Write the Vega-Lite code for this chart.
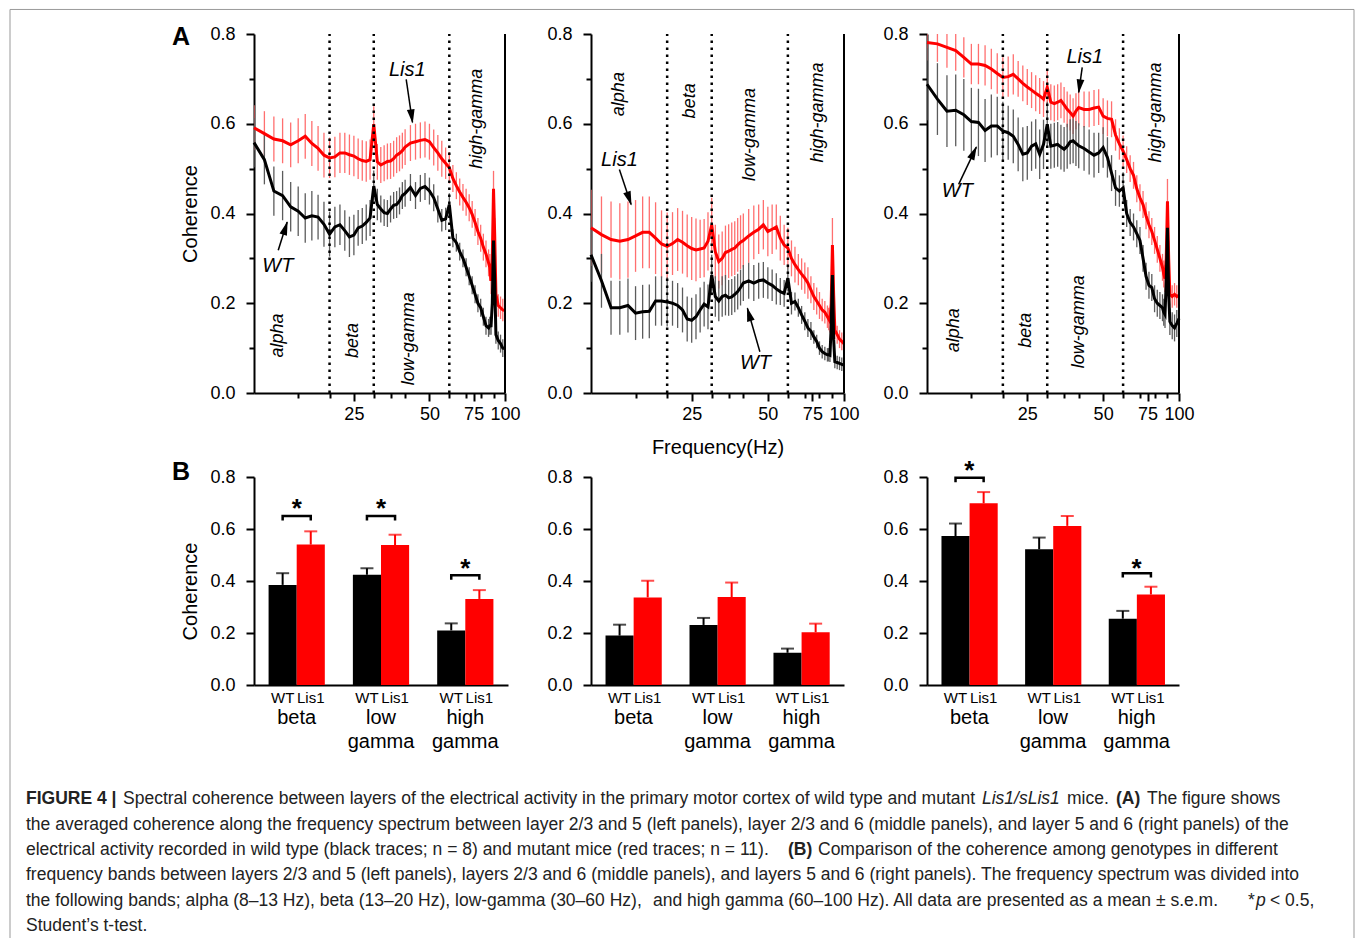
{
"$schema": "https://vega.github.io/schema/vega-lite/v6.json",
"autosize": {"type": "pad"},
"padding": {"left": 9, "top": 8, "right": 0, "bottom": 0},
"background": "white",
"config": {
  "view": {"stroke": null},
  "font": "Liberation Sans",
  "axis": {"domainColor": "#000", "domainWidth": 2, "tickColor": "#000", "tickWidth": 2, "labelColor": "#000", "titleColor": "#000", "labelFont": "Liberation Sans", "titleFont": "Liberation Sans", "grid": false, "labelFontSize": 18, "titleFontSize": 20, "titleFontWeight": "normal", "labelOverlap": false, "labelFlush": false},
  "title": {"font": "Liberation Sans", "color": "#000"},
  "text": {"font": "Liberation Sans", "color": "#000"}
},
"datasets": {
"spec": [
{"p":1,"f":10,"w":0.558,"we":0.055,"l":0.591,"le":0.05},
{"p":1,"f":11,"w":0.52,"we":0.055,"l":0.578,"le":0.05},
{"p":1,"f":12,"w":0.45,"we":0.055,"l":0.566,"le":0.05},
{"p":1,"f":13,"w":0.44,"we":0.055,"l":0.562,"le":0.05},
{"p":1,"f":14,"w":0.415,"we":0.055,"l":0.553,"le":0.05},
{"p":1,"f":15,"w":0.405,"we":0.055,"l":0.562,"le":0.05},
{"p":1,"f":16,"w":0.39,"we":0.055,"l":0.572,"le":0.05},
{"p":1,"f":17,"w":0.395,"we":0.055,"l":0.556,"le":0.05},
{"p":1,"f":18,"w":0.392,"we":0.05,"l":0.545,"le":0.05},
{"p":1,"f":19,"w":0.376,"we":0.05,"l":0.53,"le":0.05},
{"p":1,"f":20,"w":0.354,"we":0.05,"l":0.524,"le":0.045},
{"p":1,"f":21,"w":0.37,"we":0.045,"l":0.526,"le":0.045},
{"p":1,"f":22,"w":0.375,"we":0.045,"l":0.535,"le":0.045},
{"p":1,"f":23,"w":0.362,"we":0.045,"l":0.535,"le":0.045},
{"p":1,"f":24,"w":0.348,"we":0.045,"l":0.531,"le":0.045},
{"p":1,"f":25,"w":0.352,"we":0.045,"l":0.528,"le":0.045},
{"p":1,"f":26,"w":0.368,"we":0.04,"l":0.522,"le":0.045},
{"p":1,"f":27,"w":0.372,"we":0.04,"l":0.518,"le":0.045},
{"p":1,"f":28,"w":0.38,"we":0.04,"l":0.516,"le":0.045},
{"p":1,"f":29,"w":0.39,"we":0.04,"l":0.52,"le":0.045},
{"p":1,"f":30,"w":0.461,"we":0.035,"l":0.599,"le":0.04},
{"p":1,"f":31,"w":0.42,"we":0.035,"l":0.515,"le":0.04},
{"p":1,"f":32,"w":0.41,"we":0.03,"l":0.508,"le":0.04},
{"p":1,"f":33,"w":0.402,"we":0.03,"l":0.512,"le":0.04},
{"p":1,"f":34,"w":0.4,"we":0.03,"l":0.516,"le":0.04},
{"p":1,"f":35,"w":0.41,"we":0.03,"l":0.517,"le":0.04},
{"p":1,"f":36,"w":0.418,"we":0.03,"l":0.522,"le":0.04},
{"p":1,"f":37,"w":0.42,"we":0.03,"l":0.53,"le":0.04},
{"p":1,"f":38,"w":0.428,"we":0.03,"l":0.534,"le":0.04},
{"p":1,"f":39,"w":0.44,"we":0.03,"l":0.54,"le":0.04},
{"p":1,"f":40,"w":0.445,"we":0.03,"l":0.548,"le":0.04},
{"p":1,"f":42,"w":0.458,"we":0.03,"l":0.557,"le":0.04},
{"p":1,"f":44,"w":0.44,"we":0.03,"l":0.56,"le":0.04},
{"p":1,"f":46,"w":0.456,"we":0.03,"l":0.563,"le":0.04},
{"p":1,"f":48,"w":0.46,"we":0.03,"l":0.565,"le":0.04},
{"p":1,"f":50,"w":0.45,"we":0.03,"l":0.56,"le":0.04},
{"p":1,"f":52,"w":0.435,"we":0.03,"l":0.547,"le":0.04},
{"p":1,"f":54,"w":0.41,"we":0.03,"l":0.535,"le":0.04},
{"p":1,"f":56,"w":0.385,"we":0.025,"l":0.522,"le":0.04},
{"p":1,"f":58,"w":0.388,"we":0.025,"l":0.512,"le":0.035},
{"p":1,"f":60,"w":0.42,"we":0.025,"l":0.502,"le":0.035},
{"p":1,"f":62,"w":0.345,"we":0.02,"l":0.478,"le":0.03},
{"p":1,"f":64,"w":0.335,"we":0.02,"l":0.462,"le":0.03},
{"p":1,"f":66,"w":0.315,"we":0.02,"l":0.448,"le":0.03},
{"p":1,"f":68,"w":0.3,"we":0.02,"l":0.436,"le":0.03},
{"p":1,"f":70,"w":0.28,"we":0.02,"l":0.425,"le":0.03},
{"p":1,"f":72,"w":0.26,"we":0.02,"l":0.413,"le":0.03},
{"p":1,"f":74,"w":0.24,"we":0.02,"l":0.398,"le":0.03},
{"p":1,"f":76,"w":0.22,"we":0.02,"l":0.38,"le":0.03},
{"p":1,"f":78,"w":0.2,"we":0.02,"l":0.36,"le":0.03},
{"p":1,"f":80,"w":0.19,"we":0.02,"l":0.345,"le":0.03},
{"p":1,"f":82,"w":0.17,"we":0.02,"l":0.325,"le":0.03},
{"p":1,"f":84,"w":0.15,"we":0.02,"l":0.31,"le":0.03},
{"p":1,"f":86,"w":0.145,"we":0.02,"l":0.29,"le":0.03},
{"p":1,"f":87,"w":0.15,"we":0.02,"l":0.28,"le":0.03},
{"p":1,"f":88,"w":0.15,"we":0.02,"l":0.25,"le":0.03},
{"p":1,"f":89,"w":0.2,"we":0.03,"l":0.3,"le":0.04},
{"p":1,"f":90,"w":0.34,"we":0.04,"l":0.455,"le":0.04},
{"p":1,"f":91,"w":0.25,"we":0.03,"l":0.35,"le":0.04},
{"p":1,"f":92,"w":0.13,"we":0.02,"l":0.22,"le":0.025},
{"p":1,"f":94,"w":0.117,"we":0.02,"l":0.195,"le":0.025},
{"p":1,"f":96,"w":0.11,"we":0.02,"l":0.19,"le":0.025},
{"p":1,"f":98,"w":0.1,"we":0.02,"l":0.185,"le":0.025},
{"p":1,"f":100,"w":0.099,"we":0.02,"l":0.184,"le":0.025},
{"p":2,"f":10,"w":0.308,"we":0.06,"l":0.368,"le":0.085},
{"p":2,"f":11,"w":0.25,"we":0.06,"l":0.353,"le":0.085},
{"p":2,"f":12,"w":0.19,"we":0.06,"l":0.342,"le":0.085},
{"p":2,"f":13,"w":0.19,"we":0.06,"l":0.338,"le":0.085},
{"p":2,"f":14,"w":0.195,"we":0.06,"l":0.342,"le":0.085},
{"p":2,"f":15,"w":0.178,"we":0.06,"l":0.35,"le":0.08},
{"p":2,"f":16,"w":0.181,"we":0.06,"l":0.358,"le":0.08},
{"p":2,"f":17,"w":0.182,"we":0.06,"l":0.358,"le":0.08},
{"p":2,"f":18,"w":0.205,"we":0.055,"l":0.345,"le":0.08},
{"p":2,"f":19,"w":0.205,"we":0.055,"l":0.332,"le":0.075},
{"p":2,"f":20,"w":0.203,"we":0.055,"l":0.327,"le":0.075},
{"p":2,"f":21,"w":0.2,"we":0.05,"l":0.333,"le":0.07},
{"p":2,"f":22,"w":0.195,"we":0.05,"l":0.342,"le":0.07},
{"p":2,"f":23,"w":0.185,"we":0.05,"l":0.336,"le":0.07},
{"p":2,"f":24,"w":0.165,"we":0.05,"l":0.328,"le":0.07},
{"p":2,"f":25,"w":0.162,"we":0.05,"l":0.322,"le":0.07},
{"p":2,"f":26,"w":0.17,"we":0.05,"l":0.319,"le":0.07},
{"p":2,"f":27,"w":0.185,"we":0.05,"l":0.321,"le":0.065},
{"p":2,"f":28,"w":0.198,"we":0.05,"l":0.323,"le":0.065},
{"p":2,"f":29,"w":0.192,"we":0.05,"l":0.338,"le":0.065},
{"p":2,"f":30,"w":0.263,"we":0.045,"l":0.375,"le":0.06},
{"p":2,"f":31,"w":0.215,"we":0.045,"l":0.315,"le":0.06},
{"p":2,"f":32,"w":0.205,"we":0.045,"l":0.293,"le":0.06},
{"p":2,"f":33,"w":0.215,"we":0.045,"l":0.3,"le":0.06},
{"p":2,"f":34,"w":0.218,"we":0.045,"l":0.313,"le":0.06},
{"p":2,"f":35,"w":0.212,"we":0.04,"l":0.316,"le":0.06},
{"p":2,"f":36,"w":0.214,"we":0.04,"l":0.32,"le":0.06},
{"p":2,"f":37,"w":0.22,"we":0.04,"l":0.323,"le":0.06},
{"p":2,"f":38,"w":0.226,"we":0.04,"l":0.33,"le":0.06},
{"p":2,"f":39,"w":0.235,"we":0.04,"l":0.336,"le":0.06},
{"p":2,"f":40,"w":0.245,"we":0.04,"l":0.34,"le":0.06},
{"p":2,"f":42,"w":0.25,"we":0.04,"l":0.35,"le":0.06},
{"p":2,"f":44,"w":0.245,"we":0.04,"l":0.358,"le":0.06},
{"p":2,"f":46,"w":0.25,"we":0.04,"l":0.365,"le":0.055},
{"p":2,"f":48,"w":0.252,"we":0.04,"l":0.375,"le":0.055},
{"p":2,"f":50,"w":0.245,"we":0.035,"l":0.36,"le":0.055},
{"p":2,"f":52,"w":0.24,"we":0.035,"l":0.365,"le":0.055},
{"p":2,"f":54,"w":0.232,"we":0.035,"l":0.37,"le":0.05},
{"p":2,"f":56,"w":0.226,"we":0.03,"l":0.345,"le":0.05},
{"p":2,"f":58,"w":0.222,"we":0.03,"l":0.33,"le":0.045},
{"p":2,"f":60,"w":0.256,"we":0.03,"l":0.323,"le":0.045},
{"p":2,"f":62,"w":0.2,"we":0.025,"l":0.3,"le":0.04},
{"p":2,"f":64,"w":0.204,"we":0.02,"l":0.286,"le":0.04},
{"p":2,"f":66,"w":0.19,"we":0.02,"l":0.275,"le":0.035},
{"p":2,"f":68,"w":0.174,"we":0.02,"l":0.265,"le":0.035},
{"p":2,"f":70,"w":0.16,"we":0.02,"l":0.256,"le":0.035},
{"p":2,"f":72,"w":0.145,"we":0.02,"l":0.245,"le":0.035},
{"p":2,"f":74,"w":0.138,"we":0.02,"l":0.23,"le":0.03},
{"p":2,"f":76,"w":0.125,"we":0.015,"l":0.215,"le":0.03},
{"p":2,"f":78,"w":0.115,"we":0.015,"l":0.205,"le":0.03},
{"p":2,"f":80,"w":0.1,"we":0.015,"l":0.195,"le":0.03},
{"p":2,"f":82,"w":0.092,"we":0.015,"l":0.185,"le":0.025},
{"p":2,"f":84,"w":0.088,"we":0.015,"l":0.18,"le":0.025},
{"p":2,"f":86,"w":0.085,"we":0.015,"l":0.17,"le":0.025},
{"p":2,"f":87,"w":0.085,"we":0.015,"l":0.165,"le":0.025},
{"p":2,"f":88,"w":0.084,"we":0.015,"l":0.16,"le":0.025},
{"p":2,"f":89,"w":0.15,"we":0.03,"l":0.2,"le":0.04},
{"p":2,"f":90,"w":0.263,"we":0.04,"l":0.33,"le":0.06},
{"p":2,"f":91,"w":0.12,"we":0.03,"l":0.22,"le":0.04},
{"p":2,"f":92,"w":0.07,"we":0.015,"l":0.14,"le":0.02},
{"p":2,"f":94,"w":0.068,"we":0.015,"l":0.13,"le":0.02},
{"p":2,"f":96,"w":0.066,"we":0.015,"l":0.12,"le":0.02},
{"p":2,"f":98,"w":0.064,"we":0.015,"l":0.115,"le":0.02},
{"p":2,"f":100,"w":0.062,"we":0.015,"l":0.11,"le":0.02},
{"p":3,"f":10,"w":0.688,"we":0.08,"l":0.781,"le":0.04},
{"p":3,"f":11,"w":0.655,"we":0.08,"l":0.778,"le":0.04},
{"p":3,"f":12,"w":0.628,"we":0.08,"l":0.77,"le":0.045},
{"p":3,"f":13,"w":0.63,"we":0.08,"l":0.763,"le":0.045},
{"p":3,"f":14,"w":0.62,"we":0.08,"l":0.748,"le":0.045},
{"p":3,"f":15,"w":0.605,"we":0.075,"l":0.733,"le":0.045},
{"p":3,"f":16,"w":0.603,"we":0.075,"l":0.733,"le":0.045},
{"p":3,"f":17,"w":0.585,"we":0.07,"l":0.73,"le":0.045},
{"p":3,"f":18,"w":0.595,"we":0.07,"l":0.722,"le":0.045},
{"p":3,"f":19,"w":0.595,"we":0.065,"l":0.712,"le":0.045},
{"p":3,"f":20,"w":0.584,"we":0.065,"l":0.703,"le":0.045},
{"p":3,"f":21,"w":0.58,"we":0.06,"l":0.705,"le":0.045},
{"p":3,"f":22,"w":0.572,"we":0.06,"l":0.71,"le":0.045},
{"p":3,"f":23,"w":0.554,"we":0.06,"l":0.7,"le":0.04},
{"p":3,"f":24,"w":0.532,"we":0.06,"l":0.69,"le":0.04},
{"p":3,"f":25,"w":0.535,"we":0.06,"l":0.682,"le":0.04},
{"p":3,"f":26,"w":0.55,"we":0.055,"l":0.675,"le":0.04},
{"p":3,"f":27,"w":0.555,"we":0.055,"l":0.668,"le":0.04},
{"p":3,"f":28,"w":0.532,"we":0.055,"l":0.662,"le":0.04},
{"p":3,"f":29,"w":0.554,"we":0.055,"l":0.655,"le":0.04},
{"p":3,"f":30,"w":0.599,"we":0.05,"l":0.681,"le":0.04},
{"p":3,"f":31,"w":0.55,"we":0.05,"l":0.648,"le":0.04},
{"p":3,"f":32,"w":0.552,"we":0.05,"l":0.645,"le":0.04},
{"p":3,"f":33,"w":0.554,"we":0.05,"l":0.648,"le":0.04},
{"p":3,"f":34,"w":0.548,"we":0.05,"l":0.652,"le":0.04},
{"p":3,"f":35,"w":0.543,"we":0.05,"l":0.642,"le":0.04},
{"p":3,"f":36,"w":0.55,"we":0.05,"l":0.632,"le":0.04},
{"p":3,"f":37,"w":0.56,"we":0.05,"l":0.625,"le":0.04},
{"p":3,"f":38,"w":0.562,"we":0.05,"l":0.617,"le":0.04},
{"p":3,"f":39,"w":0.556,"we":0.05,"l":0.628,"le":0.04},
{"p":3,"f":40,"w":0.551,"we":0.05,"l":0.636,"le":0.04},
{"p":3,"f":42,"w":0.545,"we":0.05,"l":0.632,"le":0.04},
{"p":3,"f":44,"w":0.537,"we":0.05,"l":0.632,"le":0.04},
{"p":3,"f":46,"w":0.53,"we":0.05,"l":0.635,"le":0.04},
{"p":3,"f":48,"w":0.535,"we":0.045,"l":0.637,"le":0.04},
{"p":3,"f":50,"w":0.547,"we":0.045,"l":0.617,"le":0.04},
{"p":3,"f":52,"w":0.525,"we":0.045,"l":0.612,"le":0.04},
{"p":3,"f":54,"w":0.49,"we":0.04,"l":0.61,"le":0.04},
{"p":3,"f":56,"w":0.457,"we":0.04,"l":0.575,"le":0.035},
{"p":3,"f":58,"w":0.45,"we":0.035,"l":0.555,"le":0.035},
{"p":3,"f":60,"w":0.457,"we":0.035,"l":0.539,"le":0.035},
{"p":3,"f":62,"w":0.4,"we":0.03,"l":0.52,"le":0.03},
{"p":3,"f":64,"w":0.38,"we":0.03,"l":0.5,"le":0.03},
{"p":3,"f":66,"w":0.37,"we":0.03,"l":0.485,"le":0.03},
{"p":3,"f":68,"w":0.355,"we":0.03,"l":0.455,"le":0.03},
{"p":3,"f":70,"w":0.34,"we":0.03,"l":0.435,"le":0.03},
{"p":3,"f":72,"w":0.3,"we":0.03,"l":0.42,"le":0.03},
{"p":3,"f":74,"w":0.26,"we":0.03,"l":0.395,"le":0.03},
{"p":3,"f":76,"w":0.24,"we":0.03,"l":0.375,"le":0.03},
{"p":3,"f":78,"w":0.235,"we":0.03,"l":0.36,"le":0.03},
{"p":3,"f":80,"w":0.21,"we":0.03,"l":0.34,"le":0.03},
{"p":3,"f":82,"w":0.2,"we":0.03,"l":0.32,"le":0.03},
{"p":3,"f":84,"w":0.195,"we":0.03,"l":0.3,"le":0.03},
{"p":3,"f":86,"w":0.19,"we":0.03,"l":0.28,"le":0.03},
{"p":3,"f":87,"w":0.18,"we":0.03,"l":0.265,"le":0.03},
{"p":3,"f":88,"w":0.175,"we":0.03,"l":0.255,"le":0.03},
{"p":3,"f":89,"w":0.25,"we":0.035,"l":0.3,"le":0.04},
{"p":3,"f":90,"w":0.368,"we":0.04,"l":0.427,"le":0.05},
{"p":3,"f":91,"w":0.22,"we":0.035,"l":0.3,"le":0.04},
{"p":3,"f":92,"w":0.159,"we":0.03,"l":0.22,"le":0.025},
{"p":3,"f":94,"w":0.15,"we":0.03,"l":0.215,"le":0.025},
{"p":3,"f":96,"w":0.145,"we":0.03,"l":0.22,"le":0.025},
{"p":3,"f":98,"w":0.155,"we":0.03,"l":0.215,"le":0.025},
{"p":3,"f":100,"w":0.166,"we":0.03,"l":0.218,"le":0.025}
],
"bars": [
{"p":1,"b":"beta","g":"WT","m":0.385,"hi":0.43},
{"p":1,"b":"beta","g":"Lis1","m":0.54,"hi":0.591},
{"p":1,"b":"low gamma","g":"WT","m":0.424,"hi":0.449},
{"p":1,"b":"low gamma","g":"Lis1","m":0.538,"hi":0.578},
{"p":1,"b":"high gamma","g":"WT","m":0.21,"hi":0.237},
{"p":1,"b":"high gamma","g":"Lis1","m":0.331,"hi":0.365},
{"p":2,"b":"beta","g":"WT","m":0.19,"hi":0.232},
{"p":2,"b":"beta","g":"Lis1","m":0.337,"hi":0.401},
{"p":2,"b":"low gamma","g":"WT","m":0.231,"hi":0.258},
{"p":2,"b":"low gamma","g":"Lis1","m":0.338,"hi":0.394},
{"p":2,"b":"high gamma","g":"WT","m":0.124,"hi":0.14},
{"p":2,"b":"high gamma","g":"Lis1","m":0.203,"hi":0.236},
{"p":3,"b":"beta","g":"WT","m":0.573,"hi":0.621},
{"p":3,"b":"beta","g":"Lis1","m":0.699,"hi":0.742},
{"p":3,"b":"low gamma","g":"WT","m":0.522,"hi":0.567},
{"p":3,"b":"low gamma","g":"Lis1","m":0.612,"hi":0.65},
{"p":3,"b":"high gamma","g":"WT","m":0.255,"hi":0.285},
{"p":3,"b":"high gamma","g":"Lis1","m":0.348,"hi":0.378}
],
"brk": [
{"p":1,"b":"beta","g":"WT","y":0.633,"o":0},{"p":1,"b":"beta","g":"WT","y":0.65,"o":1},{"p":1,"b":"beta","g":"Lis1","y":0.65,"o":2},{"p":1,"b":"beta","g":"Lis1","y":0.633,"o":3},
{"p":1,"b":"low gamma","g":"WT","y":0.633,"o":0},{"p":1,"b":"low gamma","g":"WT","y":0.65,"o":1},{"p":1,"b":"low gamma","g":"Lis1","y":0.65,"o":2},{"p":1,"b":"low gamma","g":"Lis1","y":0.633,"o":3},
{"p":1,"b":"high gamma","g":"WT","y":0.405,"o":0},{"p":1,"b":"high gamma","g":"WT","y":0.422,"o":1},{"p":1,"b":"high gamma","g":"Lis1","y":0.422,"o":2},{"p":1,"b":"high gamma","g":"Lis1","y":0.405,"o":3},
{"p":3,"b":"beta","g":"WT","y":0.78,"o":0},{"p":3,"b":"beta","g":"WT","y":0.797,"o":1},{"p":3,"b":"beta","g":"Lis1","y":0.797,"o":2},{"p":3,"b":"beta","g":"Lis1","y":0.78,"o":3},
{"p":3,"b":"high gamma","g":"WT","y":0.413,"o":0},{"p":3,"b":"high gamma","g":"WT","y":0.43,"o":1},{"p":3,"b":"high gamma","g":"Lis1","y":0.43,"o":2},{"p":3,"b":"high gamma","g":"Lis1","y":0.413,"o":3}
],
"ast": [
{"p":1,"b":"beta","y":0.647},{"p":1,"b":"low gamma","y":0.647},{"p":1,"b":"high gamma","y":0.417},
{"p":3,"b":"beta","y":0.792},{"p":3,"b":"high gamma","y":0.417}
],
"ann": [
{"p":1,"k":"band","f":12.5,"v":0.128,"t":"alpha"},{"p":1,"k":"band","f":24.8,"v":0.117,"t":"beta"},{"p":1,"k":"band","f":41.4,"v":0.121,"t":"low-gamma"},{"p":1,"k":"band","f":77.6,"v":0.611,"t":"high-gamma"},
{"p":1,"k":"lab","f":40.8,"v":0.719,"t":"Lis1"},{"p":1,"k":"lab","f":12.45,"v":0.284,"t":"WT"},
{"p":2,"k":"band","f":12.95,"v":0.666,"t":"alpha"},{"p":2,"k":"band","f":24.7,"v":0.651,"t":"beta"},{"p":2,"k":"band","f":42.4,"v":0.576,"t":"low-gamma"},{"p":2,"k":"band","f":78.6,"v":0.625,"t":"high-gamma"},
{"p":2,"k":"lab","f":12.95,"v":0.52,"t":"Lis1"},{"p":2,"k":"lab","f":44.7,"v":0.066,"t":"WT"},
{"p":3,"k":"band","f":12.8,"v":0.14,"t":"alpha"},{"p":3,"k":"band","f":24.6,"v":0.14,"t":"beta"},{"p":3,"k":"band","f":40.0,"v":0.159,"t":"low-gamma"},{"p":3,"k":"band","f":81.4,"v":0.625,"t":"high-gamma"},
{"p":3,"k":"lab","f":42.3,"v":0.748,"t":"Lis1"},{"p":3,"k":"lab","f":13.2,"v":0.45,"t":"WT"}
],
"arr": [
{"p":1,"f":40.4,"v":0.699,"f2":42.8,"v2":0.603,"hf":42.5,"hv":0.616,"a":172},
{"p":1,"f":12.49,"v":0.318,"f2":13.55,"v2":0.381,"hf":13.34,"hv":0.368,"a":18},
{"p":2,"f":12.95,"v":0.498,"f2":14.4,"v2":0.42,"hf":14.16,"hv":0.433,"a":161},
{"p":2,"f":46.5,"v":0.092,"f2":41.5,"v2":0.189,"hf":42.1,"hv":0.176,"a":344},
{"p":3,"f":41.3,"v":0.7255,"f2":40.0,"v2":0.67,"hf":40.3,"hv":0.683,"a":188},
{"p":3,"f":13.35,"v":0.465,"f2":15.7,"v2":0.548,"hf":15.33,"hv":0.536,"a":25}
],
"cap": [
{"ln":1,"x":0,"s":"b","t":"FIGURE 4 |"},
{"ln":1,"x":97,"s":"n","t":"Spectral coherence between layers of the electrical activity in the primary motor cortex of wild type and mutant"},
{"ln":1,"x":956,"s":"i","t":"Lis1/sLis1"},
{"ln":1,"x":1041,"s":"n","t":"mice."},
{"ln":1,"x":1090,"s":"b","t":"(A)"},
{"ln":1,"x":1121,"s":"n","t":"The figure shows"},
{"ln":2,"x":0,"s":"n","t":"the averaged coherence along the frequency spectrum between layer 2/3 and 5 (left panels), layer 2/3 and 6 (middle panels), and layer 5 and 6 (right panels) of the"},
{"ln":3,"x":0,"s":"n","t":"electrical activity recorded in wild type (black traces; n = 8) and mutant mice (red traces; n = 11)."},
{"ln":3,"x":762,"s":"b","t":"(B)"},
{"ln":3,"x":792,"s":"n","t":"Comparison of the coherence among genotypes in different"},
{"ln":4,"x":0,"s":"n","t":"frequency bands between layers 2/3 and 5 (left panels), layers 2/3 and 6 (middle panels), and layers 5 and 6 (right panels). The frequency spectrum was divided into"},
{"ln":5,"x":0,"s":"n","t":"the following bands; alpha (8–13 Hz), beta (13–20 Hz), low-gamma (30–60 Hz),"},
{"ln":5,"x":627,"s":"n","t":"and high gamma (60–100 Hz). All data are presented as a mean ± s.e.m."},
{"ln":5,"x":1222,"s":"n","t":"*"},
{"ln":5,"x":1230,"s":"i","t":"p"},
{"ln":5,"x":1244,"s":"n","t":"< 0.5,"},
{"ln":6,"x":0,"s":"n","t":"Student’s t-test."}
],
"frame": [
{"x":-16,"ln":-30.22,"x2":-16,"y2":6.48},
{"x":-16,"ln":-30.22,"x2":1328,"y2":-30.22},
{"x":1328,"ln":-30.22,"x2":1328,"y2":6.48}
]
},
"bounds": "flush",
"columns": 4,
"align": "each",
"spacing": {"row": 84, "column": 83},
"concat": [
{"width": 145, "height": 359, "data": {"values": [{}]}, "mark": {"type": "text", "text": ""}},
{
"width": 251, "height": 359,
"title": {"text": "A", "anchor": "start", "frame": "group", "orient": "top", "fontSize": 25, "fontWeight": "bold", "baseline": "alphabetic", "offset": -45, "dx": -82},
"encoding": {"x": {"field": "f", "type": "quantitative", "title": null, "scale": {"type": "log", "domain": [10, 100], "nice": false},
  "axis": {"values": [15,20,25,30,35,40,50,60,70,75,80,90,100], "format": "d", "labelExpr": "(datum.value==25||datum.value==50||datum.value==75||datum.value==100) ? datum.label : ''", "tickSize": {"condition": {"test": "datum.value==25||datum.value==50||datum.value==75||datum.value==100", "value": 8}, "value": 5}, "labelPadding": 4}}},
"layer": [
 {"data": {"name": "spec"}, "transform": [{"filter": "datum.p==1"}], "layer": [
  {"mark": {"type": "errorbar", "color": "#ff6f6f", "thickness": 1.3, "clip": true}, "encoding": {"x": {"field": "f", "type": "quantitative", "title": null}, "y": {"field": "l", "type": "quantitative", "title": "Coherence", "scale": {"domain": [0, 0.8], "nice": false},
    "axis": {"values": [0,0.1,0.2,0.3,0.4,0.5,0.6,0.7,0.8], "format": ".1f", "labelExpr": "round(datum.value*10)%2==0 ? datum.label : ''", "tickSize": {"condition": {"test": "round(datum.value*10)%2==0", "value": 8}, "value": 5}, "labelPadding": 11, "titlePadding": 9}}, "yError": {"field": "le"}}},
  {"mark": {"type": "errorbar", "color": "#5c5c5c", "thickness": 1.3, "clip": true}, "encoding": {"x": {"field": "f", "type": "quantitative", "title": null}, "y": {"field": "w", "type": "quantitative", "title": "Coherence"}, "yError": {"field": "we"}}},
  {"mark": {"type": "line", "color": "#ff0000", "strokeWidth": 3}, "encoding": {"y": {"field": "l", "type": "quantitative", "title": "Coherence"}}},
  {"mark": {"type": "line", "color": "#000000", "strokeWidth": 3}, "encoding": {"y": {"field": "w", "type": "quantitative", "title": "Coherence"}}}
 ]},
 {"data": {"values": [{"f": 20}, {"f": 30}, {"f": 60}]}, "mark": {"type": "rule", "strokeDash": [2.5, 4.5], "strokeWidth": 2.5, "color": "#000"}, "encoding": {"y": {"datum": 0}, "y2": {"datum": 0.8}}},
 {"data": {"values": [{"f": 100}]}, "mark": {"type": "rule", "strokeWidth": 2, "color": "#000"}, "encoding": {"y": {"datum": 0}, "y2": {"datum": 0.8}}},
 {"data": {"name": "ann"}, "transform": [{"filter": "datum.p==1 && datum.k=='band'"}], "mark": {"type": "text", "angle": 270, "fontStyle": "italic", "fontSize": 18}, "encoding": {"y": {"field": "v", "type": "quantitative", "title": "Coherence"}, "text": {"field": "t"}}},
 {"data": {"name": "ann"}, "transform": [{"filter": "datum.p==1 && datum.k=='lab'"}], "mark": {"type": "text", "fontStyle": "italic", "fontSize": 20}, "encoding": {"y": {"field": "v", "type": "quantitative", "title": "Coherence"}, "text": {"field": "t"}}},
 {"data": {"name": "arr"}, "transform": [{"filter": "datum.p==1"}], "mark": {"type": "rule", "strokeWidth": 1.5, "color": "#000"}, "encoding": {"y": {"field": "v", "type": "quantitative", "title": "Coherence"}, "x2": {"field": "f2"}, "y2": {"field": "v2"}}},
 {"data": {"name": "arr"}, "transform": [{"filter": "datum.p==1"}], "mark": {"type": "point", "shape": "M0,-1L0.55,1L-0.55,1Z", "filled": true, "size": 200, "color": "#000", "opacity": 1}, "encoding": {"x": {"field": "hf", "type": "quantitative", "title": null}, "y": {"field": "hv", "type": "quantitative", "title": "Coherence"}, "angle": {"field": "a", "type": "quantitative", "scale": null}}}
]
},
{
"width": 253, "height": 359,
"encoding": {"x": {"field": "f", "type": "quantitative", "title": "Frequency(Hz)", "scale": {"type": "log", "domain": [10, 100], "nice": false},
  "axis": {"values": [15,20,25,30,35,40,50,60,70,75,80,90,100], "format": "d", "labelExpr": "(datum.value==25||datum.value==50||datum.value==75||datum.value==100) ? datum.label : ''", "tickSize": {"condition": {"test": "datum.value==25||datum.value==50||datum.value==75||datum.value==100", "value": 8}, "value": 5}, "labelPadding": 4, "titlePadding": 14}}},
"layer": [
 {"data": {"name": "spec"}, "transform": [{"filter": "datum.p==2"}], "layer": [
  {"mark": {"type": "errorbar", "color": "#ff6f6f", "thickness": 1.3, "clip": true}, "encoding": {"x": {"field": "f", "type": "quantitative", "title": "Frequency(Hz)"}, "y": {"field": "l", "type": "quantitative", "title": null, "scale": {"domain": [0, 0.8], "nice": false},
    "axis": {"values": [0,0.1,0.2,0.3,0.4,0.5,0.6,0.7,0.8], "format": ".1f", "labelExpr": "round(datum.value*10)%2==0 ? datum.label : ''", "tickSize": {"condition": {"test": "round(datum.value*10)%2==0", "value": 8}, "value": 5}, "labelPadding": 11}}, "yError": {"field": "le"}}},
  {"mark": {"type": "errorbar", "color": "#5c5c5c", "thickness": 1.3, "clip": true}, "encoding": {"x": {"field": "f", "type": "quantitative", "title": "Frequency(Hz)"}, "y": {"field": "w", "type": "quantitative", "title": null}, "yError": {"field": "we"}}},
  {"mark": {"type": "line", "color": "#ff0000", "strokeWidth": 3}, "encoding": {"y": {"field": "l", "type": "quantitative", "title": null}}},
  {"mark": {"type": "line", "color": "#000000", "strokeWidth": 3}, "encoding": {"y": {"field": "w", "type": "quantitative", "title": null}}}
 ]},
 {"data": {"values": [{"f": 20}, {"f": 30}, {"f": 60}]}, "mark": {"type": "rule", "strokeDash": [2.5, 4.5], "strokeWidth": 2.5, "color": "#000"}, "encoding": {"y": {"datum": 0}, "y2": {"datum": 0.8}}},
 {"data": {"values": [{"f": 100}]}, "mark": {"type": "rule", "strokeWidth": 2, "color": "#000"}, "encoding": {"y": {"datum": 0}, "y2": {"datum": 0.8}}},
 {"data": {"name": "ann"}, "transform": [{"filter": "datum.p==2 && datum.k=='band'"}], "mark": {"type": "text", "angle": 270, "fontStyle": "italic", "fontSize": 18}, "encoding": {"y": {"field": "v", "type": "quantitative", "title": null}, "text": {"field": "t"}}},
 {"data": {"name": "ann"}, "transform": [{"filter": "datum.p==2 && datum.k=='lab'"}], "mark": {"type": "text", "fontStyle": "italic", "fontSize": 20}, "encoding": {"y": {"field": "v", "type": "quantitative", "title": null}, "text": {"field": "t"}}},
 {"data": {"name": "arr"}, "transform": [{"filter": "datum.p==2"}], "mark": {"type": "rule", "strokeWidth": 1.5, "color": "#000"}, "encoding": {"y": {"field": "v", "type": "quantitative", "title": null}, "x2": {"field": "f2"}, "y2": {"field": "v2"}}},
 {"data": {"name": "arr"}, "transform": [{"filter": "datum.p==2"}], "mark": {"type": "point", "shape": "M0,-1L0.55,1L-0.55,1Z", "filled": true, "size": 200, "color": "#000", "opacity": 1}, "encoding": {"x": {"field": "hf", "type": "quantitative", "title": "Frequency(Hz)"}, "y": {"field": "hv", "type": "quantitative", "title": null}, "angle": {"field": "a", "type": "quantitative", "scale": null}}}
]
},
{
"width": 252, "height": 359,
"encoding": {"x": {"field": "f", "type": "quantitative", "title": null, "scale": {"type": "log", "domain": [10, 100], "nice": false},
  "axis": {"values": [15,20,25,30,35,40,50,60,70,75,80,90,100], "format": "d", "labelExpr": "(datum.value==25||datum.value==50||datum.value==75||datum.value==100) ? datum.label : ''", "tickSize": {"condition": {"test": "datum.value==25||datum.value==50||datum.value==75||datum.value==100", "value": 8}, "value": 5}, "labelPadding": 4}}},
"layer": [
 {"data": {"name": "spec"}, "transform": [{"filter": "datum.p==3"}], "layer": [
  {"mark": {"type": "errorbar", "color": "#ff6f6f", "thickness": 1.3, "clip": true}, "encoding": {"x": {"field": "f", "type": "quantitative", "title": null}, "y": {"field": "l", "type": "quantitative", "title": null, "scale": {"domain": [0, 0.8], "nice": false},
    "axis": {"values": [0,0.1,0.2,0.3,0.4,0.5,0.6,0.7,0.8], "format": ".1f", "labelExpr": "round(datum.value*10)%2==0 ? datum.label : ''", "tickSize": {"condition": {"test": "round(datum.value*10)%2==0", "value": 8}, "value": 5}, "labelPadding": 11}}, "yError": {"field": "le"}}},
  {"mark": {"type": "errorbar", "color": "#5c5c5c", "thickness": 1.3, "clip": true}, "encoding": {"x": {"field": "f", "type": "quantitative", "title": null}, "y": {"field": "w", "type": "quantitative", "title": null}, "yError": {"field": "we"}}},
  {"mark": {"type": "line", "color": "#ff0000", "strokeWidth": 3}, "encoding": {"y": {"field": "l", "type": "quantitative", "title": null}}},
  {"mark": {"type": "line", "color": "#000000", "strokeWidth": 3}, "encoding": {"y": {"field": "w", "type": "quantitative", "title": null}}}
 ]},
 {"data": {"values": [{"f": 20}, {"f": 30}, {"f": 60}]}, "mark": {"type": "rule", "strokeDash": [2.5, 4.5], "strokeWidth": 2.5, "color": "#000"}, "encoding": {"y": {"datum": 0}, "y2": {"datum": 0.8}}},
 {"data": {"values": [{"f": 100}]}, "mark": {"type": "rule", "strokeWidth": 2, "color": "#000"}, "encoding": {"y": {"datum": 0}, "y2": {"datum": 0.8}}},
 {"data": {"name": "ann"}, "transform": [{"filter": "datum.p==3 && datum.k=='band'"}], "mark": {"type": "text", "angle": 270, "fontStyle": "italic", "fontSize": 18}, "encoding": {"y": {"field": "v", "type": "quantitative", "title": null}, "text": {"field": "t"}}},
 {"data": {"name": "ann"}, "transform": [{"filter": "datum.p==3 && datum.k=='lab'"}], "mark": {"type": "text", "fontStyle": "italic", "fontSize": 20}, "encoding": {"y": {"field": "v", "type": "quantitative", "title": null}, "text": {"field": "t"}}},
 {"data": {"name": "arr"}, "transform": [{"filter": "datum.p==3"}], "mark": {"type": "rule", "strokeWidth": 1.5, "color": "#000"}, "encoding": {"y": {"field": "v", "type": "quantitative", "title": null}, "x2": {"field": "f2"}, "y2": {"field": "v2"}}},
 {"data": {"name": "arr"}, "transform": [{"filter": "datum.p==3"}], "mark": {"type": "point", "shape": "M0,-1L0.55,1L-0.55,1Z", "filled": true, "size": 200, "color": "#000", "opacity": 1}, "encoding": {"x": {"field": "hf", "type": "quantitative", "title": null}, "y": {"field": "hv", "type": "quantitative", "title": null}, "angle": {"field": "a", "type": "quantitative", "scale": null}}}
]
},
{"width": 145, "height": 208, "data": {"values": [{}]}, "mark": {"type": "text", "text": ""}},
{
"width": 254, "height": 208,
"title": {"text": "B", "anchor": "start", "frame": "group", "orient": "top", "fontSize": 25, "fontWeight": "bold", "baseline": "alphabetic", "offset": -37, "dx": -82},
"encoding": {"x": {"field": "b", "type": "nominal", "sort": ["beta", "low gamma", "high gamma"], "title": null, "scale": {"paddingInner": 0.333, "paddingOuter": 0.173},
  "axis": {"ticks": false, "labelAngle": 0, "labelPadding": 22, "labelFontSize": 20, "labelExpr": "split(datum.label, ' ')", "labelLineHeight": 24}}},
"layer": [
 {"data": {"name": "bars"}, "transform": [{"filter": "datum.p==1"}], "layer": [
  {"mark": {"type": "rule", "strokeWidth": 2}, "encoding": {"xOffset": {"field": "g", "type": "nominal", "sort": ["WT", "Lis1"], "scale": {"paddingInner": 0, "paddingOuter": 0}}, "y": {"field": "m", "type": "quantitative", "title": "Coherence", "scale": {"domain": [0, 0.8], "nice": false},
    "axis": {"values": [0,0.1,0.2,0.3,0.4,0.5,0.6,0.7,0.8], "format": ".1f", "labelExpr": "round(datum.value*10)%2==0 ? datum.label : ''", "tickSize": {"condition": {"test": "round(datum.value*10)%2==0", "value": 8}, "value": 5}, "labelPadding": 11, "titlePadding": 9, "titleY": 114}}, "y2": {"field": "hi"}, "color": {"field": "g", "type": "nominal", "scale": {"domain": ["WT", "Lis1"], "range": ["#000000", "#ff0000"]}, "legend": null}}},
  {"mark": {"type": "tick", "thickness": 2, "size": 13}, "encoding": {"xOffset": {"field": "g", "type": "nominal", "sort": ["WT", "Lis1"]}, "y": {"field": "hi", "type": "quantitative", "title": "Coherence"}, "color": {"field": "g", "type": "nominal", "legend": null}}},
  {"mark": {"type": "bar"}, "encoding": {"xOffset": {"field": "g", "type": "nominal", "sort": ["WT", "Lis1"]}, "y": {"field": "m", "type": "quantitative", "title": "Coherence"}, "color": {"field": "g", "type": "nominal", "legend": null}}},
  {"mark": {"type": "text", "dy": 13, "fontSize": 15, "color": "#000"}, "encoding": {"xOffset": {"field": "g", "type": "nominal", "sort": ["WT", "Lis1"]}, "y": {"datum": 0}, "text": {"field": "g"}}}
 ]},
 {"data": {"name": "brk"}, "transform": [{"filter": "datum.p==1"}], "mark": {"type": "line", "color": "#000", "strokeWidth": 2.5}, "encoding": {"xOffset": {"field": "g", "type": "nominal", "sort": ["WT", "Lis1"]}, "y": {"field": "y", "type": "quantitative", "title": "Coherence"}, "order": {"field": "o"}, "detail": {"field": "b"}}},
 {"data": {"name": "ast"}, "transform": [{"filter": "datum.p==1"}], "mark": {"type": "text", "text": "*", "fontSize": 26, "fontWeight": "bold", "baseline": "alphabetic"}, "encoding": {"y": {"field": "y", "type": "quantitative", "title": "Coherence"}}}
]
},
{
"width": 253, "height": 208,
"encoding": {"x": {"field": "b", "type": "nominal", "sort": ["beta", "low gamma", "high gamma"], "title": null, "scale": {"paddingInner": 0.333, "paddingOuter": 0.173},
  "axis": {"ticks": false, "labelAngle": 0, "labelPadding": 22, "labelFontSize": 20, "labelExpr": "split(datum.label, ' ')", "labelLineHeight": 24}}},
"layer": [
 {"data": {"name": "bars"}, "transform": [{"filter": "datum.p==2"}], "layer": [
  {"mark": {"type": "rule", "strokeWidth": 2}, "encoding": {"xOffset": {"field": "g", "type": "nominal", "sort": ["WT", "Lis1"], "scale": {"paddingInner": 0, "paddingOuter": 0}}, "y": {"field": "m", "type": "quantitative", "title": null, "scale": {"domain": [0, 0.8], "nice": false},
    "axis": {"values": [0,0.1,0.2,0.3,0.4,0.5,0.6,0.7,0.8], "format": ".1f", "labelExpr": "round(datum.value*10)%2==0 ? datum.label : ''", "tickSize": {"condition": {"test": "round(datum.value*10)%2==0", "value": 8}, "value": 5}, "labelPadding": 11}}, "y2": {"field": "hi"}, "color": {"field": "g", "type": "nominal", "scale": {"domain": ["WT", "Lis1"], "range": ["#000000", "#ff0000"]}, "legend": null}}},
  {"mark": {"type": "tick", "thickness": 2, "size": 13}, "encoding": {"xOffset": {"field": "g", "type": "nominal", "sort": ["WT", "Lis1"]}, "y": {"field": "hi", "type": "quantitative", "title": null}, "color": {"field": "g", "type": "nominal", "legend": null}}},
  {"mark": {"type": "bar"}, "encoding": {"xOffset": {"field": "g", "type": "nominal", "sort": ["WT", "Lis1"]}, "y": {"field": "m", "type": "quantitative", "title": null}, "color": {"field": "g", "type": "nominal", "legend": null}}},
  {"mark": {"type": "text", "dy": 13, "fontSize": 15, "color": "#000"}, "encoding": {"xOffset": {"field": "g", "type": "nominal", "sort": ["WT", "Lis1"]}, "y": {"datum": 0}, "text": {"field": "g"}}}
 ]}
]
},
{
"width": 252, "height": 208,
"encoding": {"x": {"field": "b", "type": "nominal", "sort": ["beta", "low gamma", "high gamma"], "title": null, "scale": {"paddingInner": 0.333, "paddingOuter": 0.173},
  "axis": {"ticks": false, "labelAngle": 0, "labelPadding": 22, "labelFontSize": 20, "labelExpr": "split(datum.label, ' ')", "labelLineHeight": 24}}},
"layer": [
 {"data": {"name": "bars"}, "transform": [{"filter": "datum.p==3"}], "layer": [
  {"mark": {"type": "rule", "strokeWidth": 2}, "encoding": {"xOffset": {"field": "g", "type": "nominal", "sort": ["WT", "Lis1"], "scale": {"paddingInner": 0, "paddingOuter": 0}}, "y": {"field": "m", "type": "quantitative", "title": null, "scale": {"domain": [0, 0.8], "nice": false},
    "axis": {"values": [0,0.1,0.2,0.3,0.4,0.5,0.6,0.7,0.8], "format": ".1f", "labelExpr": "round(datum.value*10)%2==0 ? datum.label : ''", "tickSize": {"condition": {"test": "round(datum.value*10)%2==0", "value": 8}, "value": 5}, "labelPadding": 11}}, "y2": {"field": "hi"}, "color": {"field": "g", "type": "nominal", "scale": {"domain": ["WT", "Lis1"], "range": ["#000000", "#ff0000"]}, "legend": null}}},
  {"mark": {"type": "tick", "thickness": 2, "size": 13}, "encoding": {"xOffset": {"field": "g", "type": "nominal", "sort": ["WT", "Lis1"]}, "y": {"field": "hi", "type": "quantitative", "title": null}, "color": {"field": "g", "type": "nominal", "legend": null}}},
  {"mark": {"type": "bar"}, "encoding": {"xOffset": {"field": "g", "type": "nominal", "sort": ["WT", "Lis1"]}, "y": {"field": "m", "type": "quantitative", "title": null}, "color": {"field": "g", "type": "nominal", "legend": null}}},
  {"mark": {"type": "text", "dy": 13, "fontSize": 15, "color": "#000"}, "encoding": {"xOffset": {"field": "g", "type": "nominal", "sort": ["WT", "Lis1"]}, "y": {"datum": 0}, "text": {"field": "g"}}}
 ]},
 {"data": {"name": "brk"}, "transform": [{"filter": "datum.p==3"}], "mark": {"type": "line", "color": "#000", "strokeWidth": 2.5}, "encoding": {"xOffset": {"field": "g", "type": "nominal", "sort": ["WT", "Lis1"]}, "y": {"field": "y", "type": "quantitative", "title": null}, "order": {"field": "o"}, "detail": {"field": "b"}}},
 {"data": {"name": "ast"}, "transform": [{"filter": "datum.p==3"}], "mark": {"type": "text", "text": "*", "fontSize": 26, "fontWeight": "bold", "baseline": "alphabetic"}, "encoding": {"y": {"field": "y", "type": "quantitative", "title": null}}}
]
},
{
"width": 145, "height": 168,
"encoding": {
 "x": {"field": "x", "type": "quantitative", "scale": {"domain": [0, 145], "nice": false, "zero": false}, "axis": null},
 "y": {"field": "ln", "type": "quantitative", "scale": {"domain": [-0.2, 6.44], "nice": false, "zero": false, "reverse": true}, "axis": null}
},
"layer": [
 {"data": {"name": "cap"}, "transform": [{"filter": "datum.s=='n'"}], "mark": {"type": "text", "align": "left", "baseline": "middle", "fontSize": 17.5, "color": "#222"}, "encoding": {"text": {"field": "t"}}},
 {"data": {"name": "cap"}, "transform": [{"filter": "datum.s=='b'"}], "mark": {"type": "text", "align": "left", "baseline": "middle", "fontSize": 17.5, "fontWeight": "bold", "color": "#222"}, "encoding": {"text": {"field": "t"}}},
 {"data": {"name": "cap"}, "transform": [{"filter": "datum.s=='i'"}], "mark": {"type": "text", "align": "left", "baseline": "middle", "fontSize": 17.5, "fontStyle": "italic", "color": "#222"}, "encoding": {"text": {"field": "t"}}},
 {"data": {"name": "frame"}, "mark": {"type": "rule", "color": "#999999", "strokeWidth": 1}, "encoding": {"x2": {"field": "x2"}, "y2": {"field": "y2"}}}
]
}
]
}
